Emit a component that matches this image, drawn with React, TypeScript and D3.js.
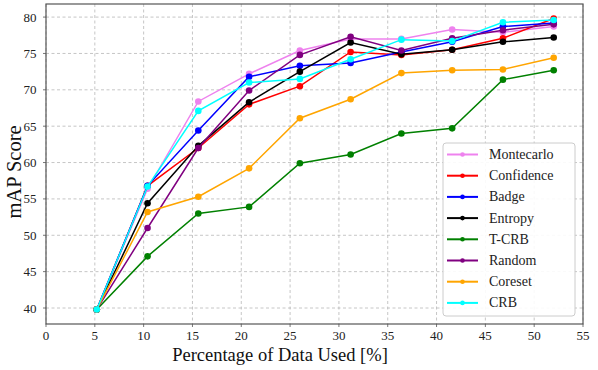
import React from "react";
import * as d3 from "d3";

const xValues = [5.2, 10.4, 15.6, 20.8, 26, 31.2, 36.4, 41.6, 46.8, 52];
const montecarlo = [39.8, 56.4, 68.4, 72.2, 75.4, 77.0, 77.0, 78.3, 77.9, 78.7];
const confidence = [39.8, 56.8, 62.0, 68.0, 70.5, 75.2, 74.8, 75.5, 77.1, 79.8];
const badge = [39.8, 56.8, 64.4, 71.8, 73.3, 73.7, 75.2, 76.6, 78.7, 79.2];
const entropy = [39.8, 54.4, 62.3, 68.3, 72.5, 76.5, 74.9, 75.5, 76.6, 77.2];
const tcrb = [39.8, 47.1, 53.0, 53.9, 59.9, 61.1, 64.0, 64.7, 71.4, 72.7];
const random = [39.8, 51.0, 62.0, 69.9, 74.8, 77.3, 75.4, 77.1, 78.2, 79.0];
const coreset = [39.8, 53.2, 55.3, 59.2, 66.1, 68.7, 72.3, 72.7, 72.8, 74.4];
const crb = [39.8, 56.7, 67.1, 71.0, 71.5, 74.2, 76.9, 76.7, 79.3, 79.6];

const seriesNames = ["Montecarlo", "Confidence", "Badge", "Entropy", "T-CRB", "Random", "Coreset", "CRB"];
const seriesValues = [montecarlo, confidence, badge, entropy, tcrb, random, coreset, crb];
const seriesColors = ["#ee82ee", "#ff0000", "#0000ff", "#000000", "#008000", "#800080", "#ffa500", "#00ffff"];

const xTicks = [0, 5, 10, 15, 20, 25, 30, 35, 40, 45, 50, 55];
const yTicks = [40, 45, 50, 55, 60, 65, 70, 75, 80];

const W = 598;
const H = 370;
const left = 46;
const right = 583;
const top = 4;
const bottom = 324;
const font = "Liberation Serif, Times New Roman, serif";

export default function App() {
  const x = d3.scaleLinear().domain([0, 55]).range([left, right]);
  const y = d3.scaleLinear().domain([37.8, 81.8]).range([bottom, top]);
  const line = d3
    .line<[number, number]>()
    .x((d) => x(d[0]))
    .y((d) => y(d[1]));

  const legX = 443;
  const legY = 143;
  const legW = 132;
  const legH = 173;
  const rowH = 21.2;

  return (
    <svg width={W} height={H} style={{ position: "absolute", left: 0, top: 0, background: "#fff" }}>
      <rect x={0} y={0} width={W} height={H} fill="#fff" />
      {/* grid */}
      {xTicks.map((t) => (
        <line key={"gx" + t} x1={x(t)} x2={x(t)} y1={top} y2={bottom} stroke="#b8b8b8" strokeWidth={0.8} strokeDasharray="3,2.5" />
      ))}
      {yTicks.map((t) => (
        <line key={"gy" + t} x1={left} x2={right} y1={y(t)} y2={y(t)} stroke="#b8b8b8" strokeWidth={0.8} strokeDasharray="3,2.5" />
      ))}
      {/* series */}
      {seriesValues.map((vals, i) => {
        const pts: [number, number][] = vals.map((v, j) => [xValues[j], v]);
        return (
          <g key={seriesNames[i]}>
            <path d={line(pts) || ""} fill="none" stroke={seriesColors[i]} strokeWidth={1.5} />
            {pts.map((p, j) => (
              <circle key={j} cx={x(p[0])} cy={y(p[1])} r={3.3} fill={seriesColors[i]} />
            ))}
          </g>
        );
      })}
      {/* spines */}
      <rect x={left} y={top} width={right - left} height={bottom - top} fill="none" stroke="#555" strokeWidth={1.2} />
      {/* ticks */}
      {xTicks.map((t) => (
        <line key={"xtk" + t} x1={x(t)} x2={x(t)} y1={bottom} y2={bottom + 3} stroke="#555" strokeWidth={0.8} />
      ))}
      {yTicks.map((t) => (
        <line key={"ytk" + t} x1={left - 3} x2={left} y1={y(t)} y2={y(t)} stroke="#555" strokeWidth={0.8} />
      ))}
      {/* tick labels */}
      {xTicks.map((t) => (
        <text key={"xt" + t} x={x(t)} y={340} textAnchor="middle" fontFamily={font} fontSize={13} fill="#222">
          {t}
        </text>
      ))}
      {yTicks.map((t) => (
        <text key={"yt" + t} x={36.5} y={y(t) + 4.5} textAnchor="end" fontFamily={font} fontSize={13} fill="#222">
          {t}
        </text>
      ))}
      {/* axis labels */}
      <text x={280} y={361} textAnchor="middle" fontFamily={font} fontSize={18.5} fill="#111">
        Percentage of Data Used [%]
      </text>
      <text transform={`translate(20.5,172) rotate(-90)`} textAnchor="middle" fontFamily={font} fontSize={20.5} fill="#111">
        mAP Score
      </text>
      {/* legend */}
      <rect x={legX} y={legY} width={legW} height={legH} rx={3} fill="#fff" fillOpacity={0.9} stroke="#ccc" strokeWidth={1} />
      {seriesNames.map((name, i) => {
        const cy = legY + 11.5 + i * rowH;
        return (
          <g key={"leg" + name}>
            <line x1={447} x2={478} y1={cy} y2={cy} stroke={seriesColors[i]} strokeWidth={2} />
            <circle cx={462.5} cy={cy} r={2.3} fill={seriesColors[i]} />
            <text x={489} y={cy + 4.5} fontFamily={font} fontSize={14} fill="#222">
              {name}
            </text>
          </g>
        );
      })}
    </svg>
  );
}
